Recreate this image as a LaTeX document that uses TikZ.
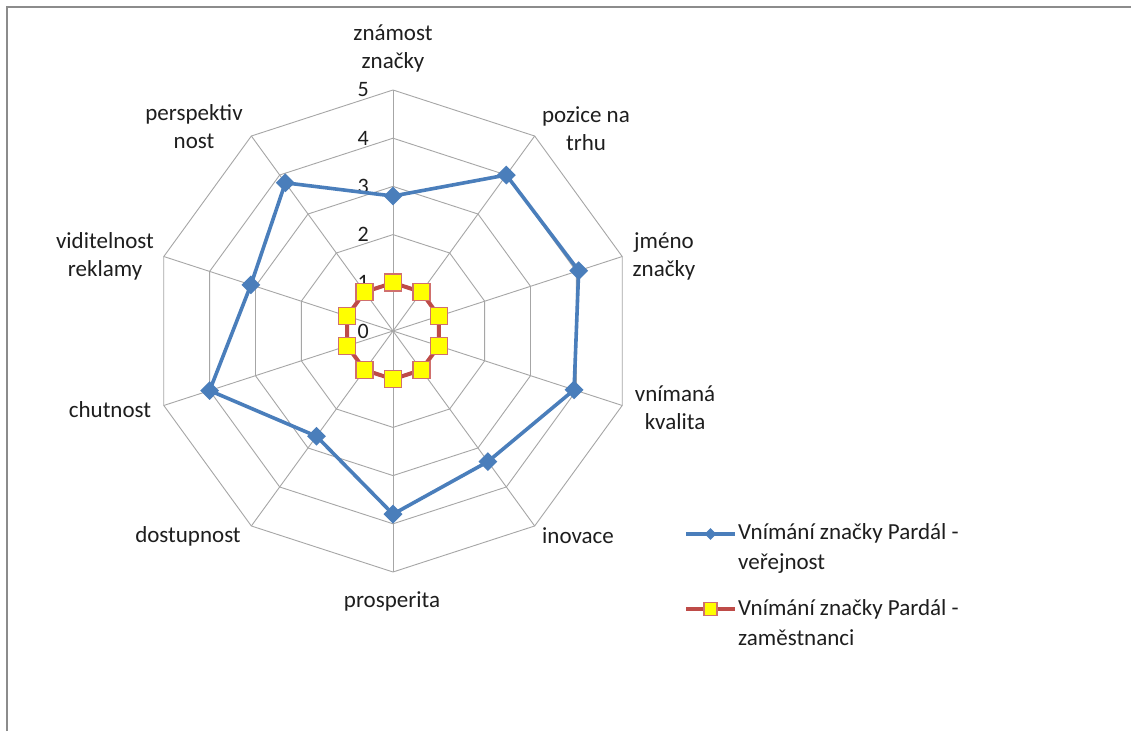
\documentclass[tikz,border=0pt]{standalone}
\usepackage{fontspec}
\setmainfont{Carlito}
\usetikzlibrary{shapes.geometric,calc}
\definecolor{gridgray}{HTML}{A6A6A6}
\definecolor{framegray}{HTML}{8C8C8C}
\definecolor{blueser}{HTML}{4A7EBB}
\definecolor{redser}{HTML}{BE4B48}
\definecolor{rededge}{HTML}{D0706D}
\definecolor{yellowfill}{HTML}{FFFF00}
\definecolor{txt}{HTML}{1E1E1E}
\begin{document}
\begin{tikzpicture}[x=1pt,y=1pt,
  gridline/.style={draw=gridgray,line width=0.9pt},
  framepen/.style={draw=framegray,line width=2pt},
  lbl/.style={text=txt,font=\fontsize{23}{28}\selectfont,align=center,inner sep=0pt},
  tick/.style={text=txt,font=\fontsize{22}{26}\selectfont,anchor=east,inner sep=0pt},
  blueline/.style={draw=blueser,line width=3.6pt,line join=round},
  redline/.style={draw=redser,line width=4pt,line join=round},
  bluemark/.style={diamond,fill=blueser,inner sep=0pt,minimum size=19pt},
  redmark/.style={rectangle,fill=yellowfill,draw=rededge,line width=1.6pt,inner sep=0pt,minimum size=17pt},
  bluemarksmall/.style={diamond,fill=blueser,inner sep=0pt,minimum size=12pt},
  redmarksmall/.style={rectangle,fill=yellowfill,draw=rededge,line width=1.4pt,inner sep=0pt,minimum size=13pt},
  legtext/.style={text=txt,font=\fontsize{23}{30}\selectfont,align=left,anchor=west,inner sep=0pt}]
\useasboundingbox (0,0) rectangle (1131,731);
\fill[white] (0,0) rectangle (1131,731);
% frame
\coordinate (fa) at (7,0);
\coordinate (fb) at (7,724);
\coordinate (fc) at (1131,724);
\draw[framepen] (fa) -- (fb) -- (fc);
% center
\coordinate (O) at (393,400);
\def\unit{48.2}
% grid decagons
\foreach \r in {1,...,5}{
  \draw[gridline] ($(O)+(90:\r*\unit)$) \foreach \k in {1,...,9}{ -- ($(O)+(90-36*\k:\r*\unit)$)} -- cycle;
}
% spokes
\foreach \k in {0,...,9}{
  \coordinate (s\k) at ($(O)+(90-36*\k:5*\unit)$);
  \draw[gridline] (O) -- (s\k);
}
% tick labels
\foreach \v in {0,...,5}{
  \node[tick] (t\v) at ($(O)+(-24,\v*\unit)$) {\v};
}
% category labels
\node[lbl] (c0) at (393,682) {známost\\značky};
\node[lbl] (c1) at (586,602) {pozice na\\trhu};
\node[lbl] (c2) at (664,475) {jméno\\značky};
\node[lbl] (c3) at (675,323) {vnímaná\\kvalita};
\node[lbl] (c4) at (578,195) {inovace};
\node[lbl] (c5) at (392,130) {prosperita};
\node[lbl] (c6) at (188,195) {dostupnost};
\node[lbl] (c7) at (110,321) {chutnost};
\node[lbl] (c8) at (105,475) {viditelnost\\reklamy};
\node[lbl] (c9) at (194,604) {perspektiv\\nost};
% red series (all 1)
\foreach \k in {0,...,9}{
  \coordinate (r\k) at ($(O)+(90-36*\k:1*\unit)$);
}
\draw[redline] (r0) -- (r1) -- (r2) -- (r3) -- (r4) -- (r5) -- (r6) -- (r7) -- (r8) -- (r9) -- cycle;
\foreach \k in {0,...,9}{
  \node[redmark] (rm\k) at (r\k) {};
}
% blue series
\foreach \k/\val in {0/2.8,1/4.0,2/4.05,3/3.95,4/3.35,5/3.8,6/2.7,7/4.0,8/3.1,9/3.8}{
  \coordinate (b\k) at ($(O)+(90-36*\k:\val*\unit)$);
}
\draw[blueline] (b0) -- (b1) -- (b2) -- (b3) -- (b4) -- (b5) -- (b6) -- (b7) -- (b8) -- (b9) -- cycle;
\foreach \k in {0,...,9}{
  \node[bluemark] (bm\k) at (b\k) {};
}
% legend
\coordinate (lb1) at (686,197);
\coordinate (lb2) at (735,197);
\draw[blueline,line cap=butt] (lb1) -- (lb2);
\node[bluemarksmall] (lbm) at (710.5,197) {};
\node[legtext] (lbt) at (738,183) {Vnímání značky Pardál -\\veřejnost};
\coordinate (lr1) at (686,122);
\coordinate (lr2) at (735,122);
\draw[redline,line cap=butt] (lr1) -- (lr2);
\node[redmarksmall] (lrm) at (710.5,122) {};
\node[legtext] (lrt) at (738,108) {Vnímání značky Pardál -\\zaměstnanci};
\end{tikzpicture}
\end{document}
